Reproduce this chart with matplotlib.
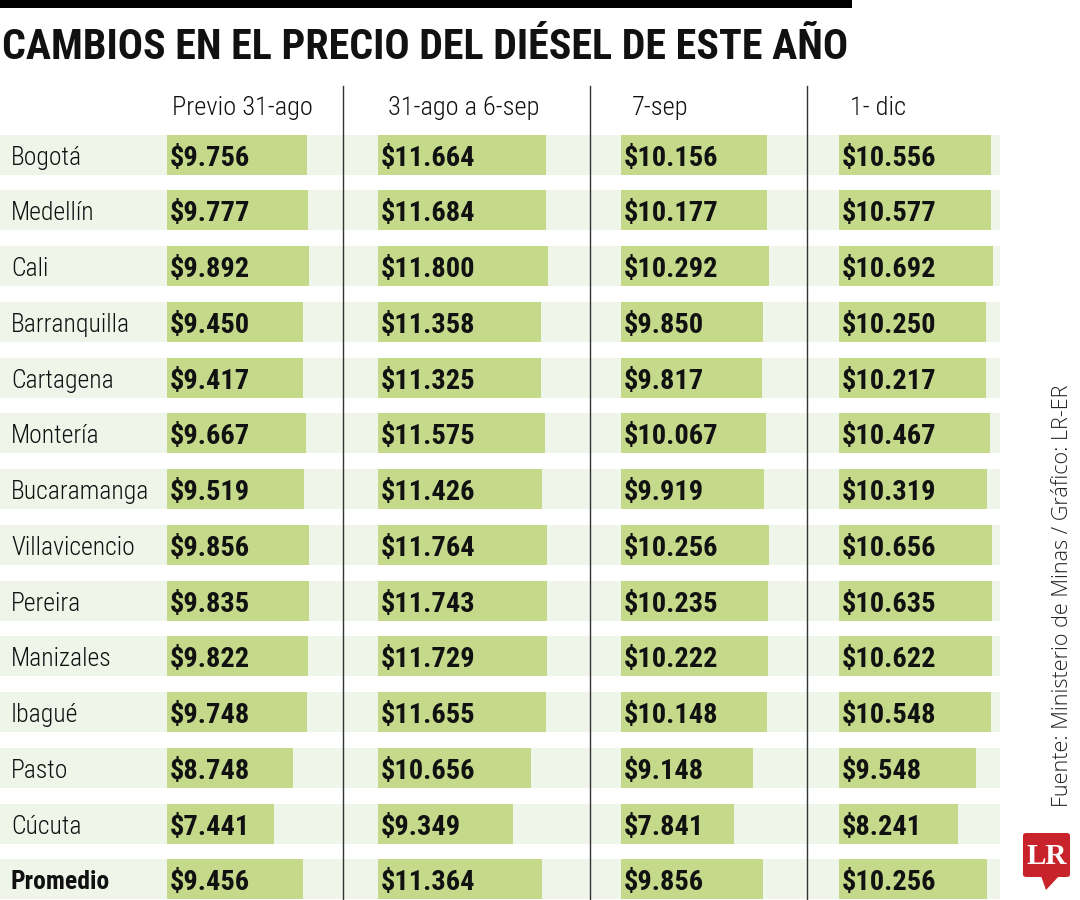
import matplotlib
matplotlib.use("Agg")
import matplotlib.pyplot as plt
import matplotlib.transforms as mtransforms
from matplotlib import font_manager as fm
from matplotlib.patches import FancyBboxPatch, Polygon, Rectangle
from matplotlib.lines import Line2D

# ---------------- data ----------------
cities = ["Bogotá", "Medellín", "Cali", "Barranquilla", "Cartagena", "Montería",
          "Bucaramanga", "Villavicencio", "Pereira", "Manizales", "Ibagué",
          "Pasto", "Cúcuta", "Promedio"]
periods = ["Previo 31-ago", "31-ago a 6-sep", "7-sep", "1- dic"]
previo_31ago = [9756, 9777, 9892, 9450, 9417, 9667, 9519, 9856, 9835, 9822, 9748, 8748, 7441, 9456]
ago31_sep6 = [11664, 11684, 11800, 11358, 11325, 11575, 11426, 11764, 11743, 11729, 11655, 10656, 9349, 11364]
sep7 = [10156, 10177, 10292, 9850, 9817, 10067, 9919, 10256, 10235, 10222, 10148, 9148, 7841, 9856]
dic1 = [10556, 10577, 10692, 10250, 10217, 10467, 10319, 10656, 10635, 10622, 10548, 9548, 8241, 10256]
series = [previo_31ago, ago31_sep6, sep7, dic1]

title = "CAMBIOS EN EL PRECIO DEL DIÉSEL DE ESTE AÑO"
source = "Fuente: Ministerio de Minas / Gráfico: LR-ER"

# ---------------- style ----------------
BAR = "#c5d98a"
STRIPE = "#f0f5ea"
RED = "#c8222a"
INK = "#111111"

# choose the narrowest available sans family
COND_STRETCH = ("condensed", "semi-condensed", "extra-condensed", "ultra-condensed")
fam, stretch = "Roboto", "normal"
for f in fm.fontManager.ttflist:
    s = str(f.stretch)
    if f.name in ("DejaVu Sans", "DejaVu Sans Condensed") and (s in COND_STRETCH or "Condensed" in f.fname):
        fam, stretch = f.name, s if s in COND_STRETCH else "condensed"
        break
for cand in ("Roboto Condensed", "Liberation Sans Narrow", "Open Sans Condensed"):
    if any(f.name == cand for f in fm.fontManager.ttflist):
        fam, stretch = cand, "normal"
        break
NARROW = dict(family=[fam, "DejaVu Sans"], fontstretch=stretch)

W, H = 1080, 900
fig = plt.figure(figsize=(W / 100, H / 100), dpi=100)
fig.patch.set_facecolor("white")
renderer = fig.canvas.get_renderer()

def fit_size(s, target_px, **kw):
    t = fig.text(0, 0, s, fontsize=10, **kw)
    w = t.get_window_extent(renderer).width
    t.remove()
    return 10 * target_px / w

def fx(x):
    return x / W

def fy(y):
    return 1 - y / H

n = len(cities)
row0 = 154.5          # pixel centre of first row
pitch = 55.75         # pixel distance between rows
top_px = row0 - pitch / 2
bot_px = top_px + n * pitch
bar_h = 40 / pitch
px_per_unit = 0.01439

LIGHT = dict(fontweight="light", **NARROW)
LAB_FS = min(fit_size("Barranquilla", 121, **LIGHT), fit_size("Bucaramanga", 138, **LIGHT))
VAL_FS = fit_size("$9.892", 80, fontweight="bold", **NARROW)
HEAD_FS = fit_size("Previo 31-ago", 141, **LIGHT)
TITLE_FS = fit_size(title, 845, fontweight="bold", **NARROW)
SRC_KW = dict(family=["Open Sans", "DejaVu Sans"], fontweight="light")
SRC_FS = fit_size(source, 423, **SRC_KW)

def rect(x0, x1):
    return [fx(x0), fy(bot_px), (x1 - x0) / W, (bot_px - top_px) / H]

# background stripes + city labels
bg = fig.add_axes(rect(0, 1000))
bg.set_xlim(0, 1)
bg.set_ylim(n - 0.5, -0.5)
bg.axis("off")
rows = list(range(n))
bg.barh(rows, [1] * n, height=bar_h, left=0, color=STRIPE, zorder=1)
lab_tr = mtransforms.offset_copy(bg.transData, fig=fig, x=11, y=0, units="dots")
for i, c in enumerate(cities):
    if c == "Promedio":
        kw = dict(fontweight="bold", **NARROW)
    else:
        kw = LIGHT
    bg.text(0, i + 0.18, c, transform=lab_tr, ha="left", va="baseline",
            fontsize=LAB_FS, color=INK, zorder=3, **kw)

# bars per column
starts = [167, 378, 621, 839]
head_off = [5, 10, 11, 11]
col_w = 200
for k, (vals, x0) in enumerate(zip(series, starts)):
    ax = fig.add_axes(rect(x0, x0 + col_w))
    ax.set_xlim(0, col_w / px_per_unit)
    ax.set_ylim(n - 0.5, -0.5)
    ax.axis("off")
    ax.barh(rows, vals, height=bar_h, left=0, color=BAR, zorder=2)
    tr = mtransforms.offset_copy(ax.transData, fig=fig, x=3, y=0, units="dots")
    for i, v in enumerate(vals):
        label = "$" + f"{v:,}".replace(",", ".")
        ax.text(0, i + 0.2, label, transform=tr, ha="left", va="baseline",
                fontsize=VAL_FS, fontweight="bold", color=INK, zorder=3, **NARROW)
    fig.text(fx(x0 + head_off[k]), fy(115), periods[k], ha="left", va="baseline",
             fontsize=HEAD_FS, color=INK, **LIGHT)

# column separators
for xs in [343, 589.5, 806.5]:
    fig.add_artist(Line2D([fx(xs), fx(xs)], [fy(86), fy(900)], color="#333333",
                          lw=1.0, transform=fig.transFigure))

# top black rule
fig.add_artist(Rectangle((0, fy(8)), fx(852), 8 / H, transform=fig.transFigure,
                         facecolor="black", edgecolor="none"))

# title
fig.text(fx(2), fy(59), title, ha="left", va="baseline", fontsize=TITLE_FS,
         fontweight="bold", color=INK, **NARROW)

# source (rotated)
fig.text(fx(1062), fy(596), source, ha="center", va="center", rotation=90,
         fontsize=SRC_FS, color="#222222", **SRC_KW)

# LR logo
fig.add_artist(FancyBboxPatch((fx(1023), fy(877)), fx(47), 44 / H,
                              boxstyle="round,pad=0,rounding_size=0.003",
                              transform=fig.transFigure, facecolor=RED,
                              edgecolor="none"))
fig.add_artist(Polygon([(fx(1041), fy(876)), (fx(1059), fy(876)), (fx(1046), fy(890))],
                       closed=True, transform=fig.transFigure, facecolor=RED,
                       edgecolor="none"))
fig.text(fx(1047), fy(856), "LR", ha="center", va="center", fontsize=21,
         family=["Liberation Serif", "DejaVu Serif"], fontweight="bold", color="white")

fig.savefig("out.png", dpi=100, facecolor="white")
